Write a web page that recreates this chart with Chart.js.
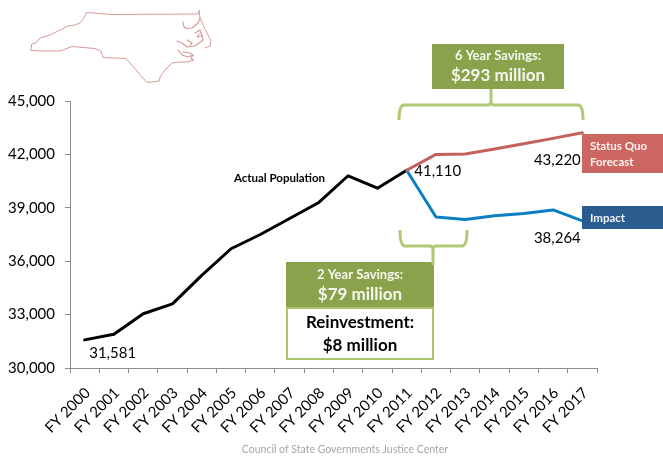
<!DOCTYPE html>
<html>
<head>
<meta charset="utf-8">
<style>
html,body{margin:0;padding:0;background:#fff}
#wrap{position:relative;width:663px;height:458px}
canvas{display:block}
</style>
<script src="https://cdn.jsdelivr.net/npm/chart.js@4"></script>
</head>
<body>
<div id="wrap"><canvas id="c" width="663" height="458"></canvas></div>
<script>
const fiscalYears = ['FY 2000','FY 2001','FY 2002','FY 2003','FY 2004','FY 2005','FY 2006','FY 2007','FY 2008','FY 2009','FY 2010','FY 2011','FY 2012','FY 2013','FY 2014','FY 2015','FY 2016','FY 2017'];
const actualPopulation = [31581,31900,33050,33600,35200,36700,37500,38400,39300,40800,40100,41110,null,null,null,null,null,null];
const statusQuoForecast = [null,null,null,null,null,null,null,null,null,null,null,41110,42000,42020,42300,42600,42900,43220];
const impactProjection = [null,null,null,null,null,null,null,null,null,null,null,41110,38480,38340,38550,38680,38880,38264];
const yTicks = [30000,33000,36000,39000,42000,45000];

const FONT = 'Lato, Carlito, Calibri, sans-serif';

// North Carolina outline and coastal sounds, in page pixels
const stateBorder = [
  [31,50],[31.7,44],[36,43],[40,38],[50,35],[60,30],[68,26],[75,25],[80,23],[84,18],[86,13],[88,12.5],[110,14.5],[198,14],
  [199,10],[200,18],[204,27],[208,35],[211,41],[210,46],[205,48]
];
const stateSouth = [
  [193,60],[188,62],[180,62],[172,63],[165,70],[160,77],[159.5,81],[147,82.5],[126,58.5],[103,57.5],[101,51],[95,48.5],
  [72,46.5],[60,51],[43,51],[31,50.5]
];
const soundLines = [
  [[183,22],[184,27],[187,28.5],[192,28],[198,23],[200,18]],
  [[195,33],[200,30],[202,36],[197,37],[199,34]],
  [[177,41],[182,43],[187,47],[195,46],[203,40],[202,35]],
  [[187,40],[192,43],[190,45]],
  [[178,50],[182,55],[188,57],[193,55],[190,53],[183,52]],
  [[193,55],[191,58],[193,60]]
];

function strokePath(ctx, pts, color, width) {
  ctx.beginPath();
  pts.forEach((p, i) => i ? ctx.lineTo(p[0], p[1]) : ctx.moveTo(p[0], p[1]));
  ctx.strokeStyle = color;
  ctx.lineWidth = width;
  ctx.lineJoin = 'round';
  ctx.lineCap = 'round';
  ctx.stroke();
}

function text(ctx, str, x, y, font, color, align) {
  ctx.font = font + ' ' + FONT;
  ctx.fillStyle = color;
  ctx.textAlign = align || 'center';
  ctx.textBaseline = 'middle';
  ctx.fillText(str, x, y);
}

const fmt = v => v.toLocaleString('en-US');

// Rounded savings bracket: arms at x0/x1, spine at yBar, stem towards yStem
function bracket(ctx, x0, x1, yArm, yBar, stemX, yStem) {
  const dir = yArm > yBar ? 1 : -1;
  ctx.beginPath();
  ctx.moveTo(x0, yArm);
  ctx.quadraticCurveTo(x0, yBar, x0 + 5, yBar);
  ctx.lineTo(stemX - 3, yBar);
  ctx.quadraticCurveTo(stemX, yBar, stemX, yBar - dir * 4);
  ctx.lineTo(stemX, yStem);
  ctx.moveTo(stemX, yBar - dir * 4);
  ctx.quadraticCurveTo(stemX, yBar, stemX + 3, yBar);
  ctx.lineTo(x1 - 5, yBar);
  ctx.quadraticCurveTo(x1, yBar, x1, yArm);
  ctx.strokeStyle = '#b0c974';
  ctx.lineWidth = 3;
  ctx.lineCap = 'butt';
  ctx.stroke();
}

const annotations = {
  id: 'annotations',
  afterDraw(chart) {
    const { ctx, scales: { x, y } } = chart;
    ctx.save();

    // State map
    const mapColor = '#d79a98';
    strokePath(ctx, stateBorder, mapColor, 1);
    strokePath(ctx, stateSouth, mapColor, 1);
    soundLines.forEach(line => strokePath(ctx, line, mapColor, 1.2));

    // Series tags on the right edge
    ctx.fillStyle = '#cc6661';
    ctx.fillRect(582, 134, 81, 39);
    text(ctx, 'Status Quo', 590, 146, 'bold 11.5px', '#fdf3f2', 'left');
    text(ctx, 'Forecast', 590, 162, 'bold 11.5px', '#fdf3f2', 'left');
    ctx.fillStyle = '#2a5c8f';
    ctx.fillRect(582, 206, 81, 23);
    text(ctx, 'Impact', 590, 218, 'bold 11.5px', '#f2f6fa', 'left');

    // Savings callouts
    bracket(ctx, 399, 583, 120, 105, 491, 87);
    ctx.fillStyle = '#8aa24b';
    ctx.fillRect(432, 44, 132, 45);
    text(ctx, '6 Year Savings:', 498, 56, 'bold 13px', '#f6f8ef');
    text(ctx, '$293 million', 498, 76, 'bold 17px', '#f6f8ef');

    ctx.fillStyle = '#8aa24b';
    ctx.fillRect(286, 262, 148, 46);
    bracket(ctx, 400, 467, 230, 246, 433, 265);
    text(ctx, '2 Year Savings:', 360, 275, 'bold 13px', '#f6f8ef');
    text(ctx, '$79 million', 360, 295, 'bold 17px', '#f6f8ef');
    ctx.fillStyle = '#ffffff';
    ctx.fillRect(287, 308, 146, 51);
    ctx.strokeStyle = '#a9c46c';
    ctx.lineWidth = 2;
    ctx.strokeRect(287, 308, 146, 51);
    text(ctx, 'Reinvestment:', 360, 323, 'bold 17px', '#000');
    text(ctx, '$8 million', 360, 346, 'bold 17px', '#000');

    // Value labels anchored to their points
    const label = (v, i, dx, dy) =>
      text(ctx, fmt(v), x.getPixelForValue(i) + dx, y.getPixelForValue(v) + dy, '15px', '#000');
    label(actualPopulation[0], 0, 28, 13);
    label(statusQuoForecast[11], 11, 31, 1);
    label(statusQuoForecast[17], 17, -25, 27);
    label(impactProjection[17], 17, -25, 17);

    text(ctx, 'Actual Population', 279.5, 178, 'bold 11.5px', '#000');
    text(ctx, 'Council of State Governments Justice Center', 345, 450, '10.5px', '#a6a6a6');
    ctx.restore();
  }
};

const lineStyle = { borderWidth: 3, pointRadius: 0, tension: 0, spanGaps: false, borderJoinStyle: 'round', borderCapStyle: 'round' };

new Chart(document.getElementById('c'), {
  type: 'line',
  data: {
    labels: fiscalYears,
    datasets: [
      { label: 'Status Quo Forecast', data: statusQuoForecast, borderColor: '#c4615c', ...lineStyle },
      { label: 'Impact', data: impactProjection, borderColor: '#0a7fc2', ...lineStyle },
      { label: 'Actual Population', data: actualPopulation, borderColor: '#000000', ...lineStyle }
    ]
  },
  options: {
    responsive: false,
    animation: false,
    layout: { padding: { top: 101, right: 66, left: 0, bottom: 0 } },
    plugins: { legend: { display: false }, tooltip: { enabled: false } },
    scales: {
      x: {
        offset: true,
        grid: { display: true, drawOnChartArea: false, offset: true, color: '#8c8c8c', tickLength: 5 },
        border: { color: '#8c8c8c' },
        afterFit(s) { s.height = 90; },
        ticks: {
          autoSkip: false, minRotation: 45, maxRotation: 45, labelOffset: 3,
          color: '#000', font: { family: FONT, size: 15 }, padding: 11
        }
      },
      y: {
        min: 30000, max: 45000,
        afterBuildTicks(s) { s.ticks = yTicks.map(value => ({ value })); },
        grid: { display: true, drawOnChartArea: false, color: '#8c8c8c', tickLength: 5 },
        border: { color: '#8c8c8c' },
        afterFit(s) { s.width = 70; },
        ticks: {
          color: '#000', font: { family: FONT, size: 15 }, padding: 10,
          callback: v => fmt(v)
        }
      }
    }
  },
  plugins: [annotations]
});
</script>
</body>
</html>
